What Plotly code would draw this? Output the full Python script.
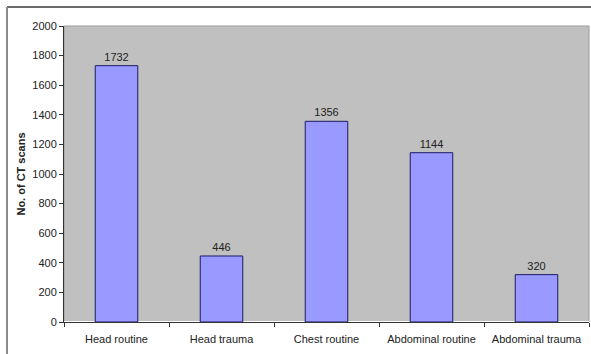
import plotly.graph_objects as go

categories = ["Head routine", "Head trauma", "Chest routine", "Abdominal routine", "Abdominal trauma"]
scans = [1732, 446, 1356, 1144, 320]
y_ticks = [0, 200, 400, 600, 800, 1000, 1200, 1400, 1600, 1800, 2000]

W, H = 591, 354
ML, MR, MT, MB = 64, 2, 26, 32
pw, ph = W - ML - MR, H - MT - MB

font = dict(family="Liberation Sans, Arial, sans-serif", size=11, color="#222222")

fig = go.Figure(
    go.Bar(
        x=categories,
        y=scans,
        text=[str(v) for v in scans],
        textposition="outside",
        textfont=dict(size=11, color="#222222"),
        cliponaxis=False,
        marker=dict(color="#9999FF", line=dict(color="#1a1a66", width=1)),
        width=0.405,
    )
)

# outer chart frame (top and left edges)
fx0 = (7 - ML) / pw
fy1 = 1 + (MT - 7) / ph
fy0 = -(MB + 5) / ph
fig.add_shape(type="line", xref="paper", yref="paper", x0=fx0, x1=1 + MR / pw + 0.01,
              y0=fy1, y1=fy1, line=dict(color="#6a6a6a", width=2))
fig.add_shape(type="line", xref="paper", yref="paper", x0=fx0, x1=fx0,
              y0=fy0, y1=fy1, line=dict(color="#8a8a8a", width=2))
# plot area frame
fig.add_shape(type="rect", xref="paper", yref="paper", x0=0, x1=1, y0=0, y1=1,
              line=dict(color="#9a9a9a", width=1), layer="below")

fig.update_layout(
    width=W, height=H,
    margin=dict(l=ML, r=MR, t=MT, b=MB),
    paper_bgcolor="white",
    plot_bgcolor="#C0C0C0",
    font=font,
    showlegend=False,
    bargap=0.595,
    xaxis=dict(
        showline=True, linecolor="#333333", linewidth=1,
        ticks="outside", tickson="boundaries", ticklen=4, tickcolor="#333333",
        showgrid=False, tickfont=dict(size=11, color="#222222"),
        ticklabelstandoff=7,
    ),
    yaxis=dict(
        range=[0, 2000], tickvals=y_ticks, showgrid=False,
        showline=True, linecolor="#333333", linewidth=1,
        ticks="outside", ticklen=4, tickcolor="#333333",
        tickfont=dict(size=11, color="#222222"),
        title=dict(text="<b>No. of CT scans</b>", font=dict(size=11, color="#222222"), standoff=4),
    ),
)

fig.write_html("out.html")
